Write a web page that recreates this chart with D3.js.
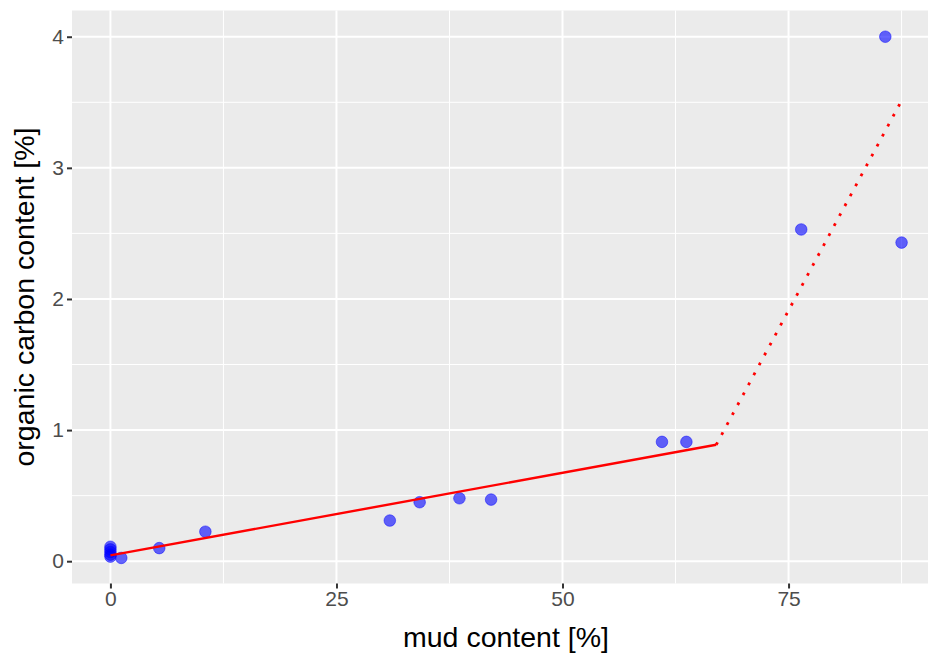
<!DOCTYPE html>
<html>
<head>
<meta charset="utf-8">
<script src="https://cdn.jsdelivr.net/npm/d3@7"></script>
<style>
  html, body { margin: 0; padding: 0; background: #fff; }
  svg { display: block; font-family: "Liberation Sans", Arial, sans-serif; }
</style>
</head>
<body>
<svg id="chart" width="928" height="655"></svg>
<script>
// ---- data ----
const mudContent = [0, 0, 0, 0, 0, 1.2, 5.4, 10.5, 30.9, 34.2, 38.6, 42.1, 61.0, 63.7, 76.4, 85.7, 87.5];
const organicCarbon = [0.11, 0.09, 0.07, 0.05, 0.035, 0.025, 0.10, 0.225, 0.31, 0.45, 0.48, 0.47, 0.91, 0.91, 2.53, 4.0, 2.43];
const fitSolidX = [0, 67.0];
const fitSolidY = [0.045, 0.888];
const fitDottedX = [67.0, 87.4];
const fitDottedY = [0.888, 3.50];
const xTicks = [0, 25, 50, 75];
const xMinorTicks = [12.5, 37.5, 62.5, 87.5];
const yTicks = [0, 1, 2, 3, 4];
const yMinorTicks = [0.5, 1.5, 2.5, 3.5];
const xTitle = "mud content [%]";
const yTitle = "organic carbon content [%]";

// ---- layout ----
const svg = d3.select("#chart");
const panel = { left: 72, right: 940, top: 10.5, bottom: 583.5 };

const x = d3.scaleLinear().domain([-4.25, 91.75]).range([panel.left, panel.right]);
const y = d3.scaleLinear().domain([-0.17, 4.2]).range([panel.bottom, panel.top]);

// panel background
svg.append("rect")
  .attr("x", panel.left).attr("y", panel.top)
  .attr("width", panel.right - panel.left).attr("height", panel.bottom - panel.top)
  .attr("fill", "#EBEBEB");

const grid = svg.append("g");
// minor grid
grid.selectAll(".xminor").data(xMinorTicks).join("line")
  .attr("x1", d => x(d)).attr("x2", d => x(d))
  .attr("y1", panel.top).attr("y2", panel.bottom)
  .attr("stroke", "#fff").attr("stroke-width", 1);
grid.selectAll(".yminor").data(yMinorTicks).join("line")
  .attr("y1", d => y(d)).attr("y2", d => y(d))
  .attr("x1", panel.left).attr("x2", panel.right)
  .attr("stroke", "#fff").attr("stroke-width", 1);
// major grid
grid.selectAll(".xmajor").data(xTicks).join("line")
  .attr("x1", d => x(d)).attr("x2", d => x(d))
  .attr("y1", panel.top).attr("y2", panel.bottom)
  .attr("stroke", "#fff").attr("stroke-width", 2);
grid.selectAll(".ymajor").data(yTicks).join("line")
  .attr("y1", d => y(d)).attr("y2", d => y(d))
  .attr("x1", panel.left).attr("x2", panel.right)
  .attr("stroke", "#fff").attr("stroke-width", 2);

// axes
const xAxis = d3.axisBottom(x).tickValues(xTicks).tickSize(5).tickPadding(3).tickFormat(d3.format("d"));
const yAxis = d3.axisLeft(y).tickValues(yTicks).tickSize(5).tickPadding(3).tickFormat(d3.format("d"));

const gx = svg.append("g").attr("transform", `translate(0,${panel.bottom})`).call(xAxis);
const gy = svg.append("g").attr("transform", `translate(${panel.left},0)`).call(yAxis);
[gx, gy].forEach(g => {
  g.select(".domain").remove();
  g.selectAll(".tick line").attr("stroke", "#333333").attr("stroke-width", 2);
  g.selectAll(".tick text").attr("fill", "#4D4D4D").style("font-size", "21px")
    .style("font-family", '"Liberation Sans", Arial, sans-serif');
});

// points
const pts = mudContent.map((d, i) => ({ x: d, y: organicCarbon[i] }));
svg.append("g").selectAll("circle").data(pts).join("circle")
  .attr("cx", d => x(d.x)).attr("cy", d => y(d.y)).attr("r", 5.8)
  .attr("fill", "#0000FF").attr("fill-opacity", 0.6)
  .attr("stroke", "#0000FF").attr("stroke-opacity", 0.6).attr("stroke-width", 0.8);

// fit lines
const line = d3.line().x(d => x(d[0])).y(d => y(d[1]));
svg.append("path")
  .datum(fitSolidX.map((d, i) => [d, fitSolidY[i]]))
  .attr("d", line).attr("fill", "none").attr("stroke", "#FF0000").attr("stroke-width", 2.4);
svg.append("path")
  .datum(fitDottedX.map((d, i) => [d, fitDottedY[i]]))
  .attr("d", line).attr("fill", "none").attr("stroke", "#FF0000").attr("stroke-width", 2.8)
  .attr("stroke-dasharray", "2.8 8.5");

// titles
svg.append("text")
  .attr("x", (panel.left + panel.right) / 2).attr("y", 647)
  .attr("text-anchor", "middle").attr("fill", "#000")
  .style("font-size", "28.5px").text(xTitle);
svg.append("text")
  .attr("transform", `translate(34,${(panel.top + panel.bottom) / 2}) rotate(-90)`)
  .attr("text-anchor", "middle").attr("fill", "#000")
  .style("font-size", "28.5px").text(yTitle);
</script>
</body>
</html>
